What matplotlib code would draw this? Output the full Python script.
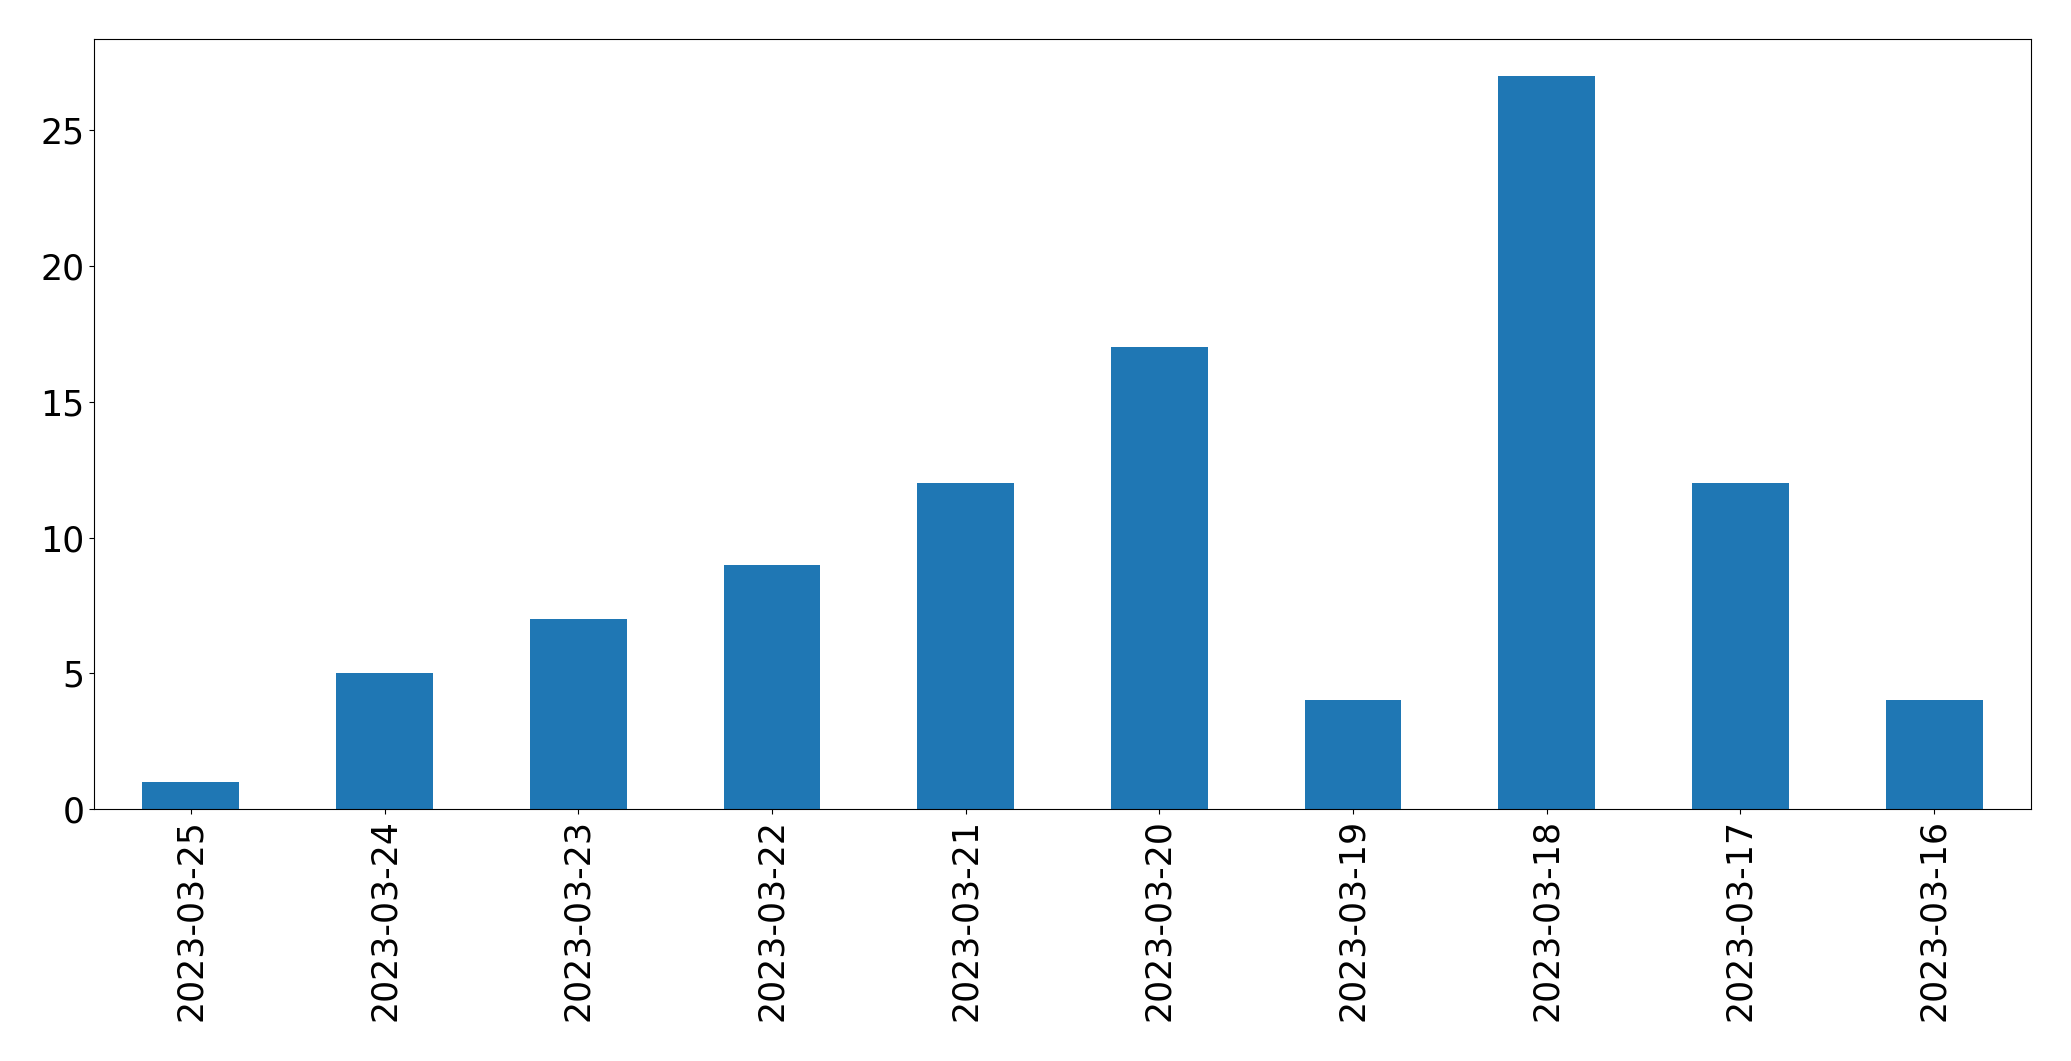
import matplotlib
matplotlib.use("Agg")
import matplotlib.pyplot as plt

dates = ["2023-03-25", "2023-03-24", "2023-03-23", "2023-03-22", "2023-03-21",
         "2023-03-20", "2023-03-19", "2023-03-18", "2023-03-17", "2023-03-16"]
counts = [1, 5, 7, 9, 12, 17, 4, 27, 12, 4]

fig = plt.figure(figsize=(20.71, 10.61), dpi=100)
ax = fig.add_axes([94/2071, 1 - 809/1061, (2031 - 94)/2071, (809 - 39.3)/1061])
x = list(range(len(dates)))
ax.bar(x, counts, width=0.5, color="#1f77b4")
ax.set_xlim(-0.5, len(dates) - 0.5)
ax.set_ylim(0, max(counts) * 1.05)
ax.set_xticks(x)
ax.set_xticklabels(dates, rotation=90)
ax.tick_params(axis="both", labelsize=25)
fig.savefig("out.png", dpi=100)
